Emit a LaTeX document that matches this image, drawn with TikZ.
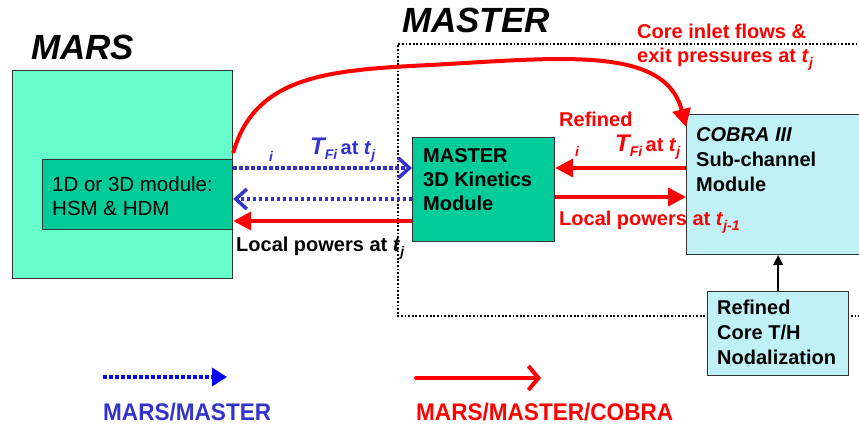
\documentclass[tikz,border=0pt]{standalone}
\usepackage{fontspec}
\setmainfont{Liberation Sans}
\usetikzlibrary{arrows.meta}
\definecolor{marsout}{RGB}{102,255,204}
\definecolor{modgreen}{RGB}{0,204,153}
\definecolor{cobrafill}{RGB}{192,241,247}
\definecolor{lblue}{RGB}{51,51,204}
\definecolor{pblue}{RGB}{0,0,255}
\definecolor{myred}{RGB}{255,0,0}
\newcommand\mysub[1]{\raisebox{-5pt}{\fontsize{14}{14}\selectfont\itshape #1}}
\newcommand\myTFi{{\fontsize{24}{24}\selectfont\itshape T}\mysub{Fi}\,at \textit{t}\mysub{j}}
\begin{document}
\begin{tikzpicture}[x=1pt,y=-1pt,
  box/.style={draw=black!80,line width=1.2pt,inner sep=0pt,anchor=north west},
  txt/.style={inner sep=0pt,anchor=base west,font=\fontsize{20}{24}\selectfont\bfseries},
  plain/.style={inner sep=0pt,anchor=base west,font=\fontsize{20.5}{24}\selectfont},
  title/.style={inner sep=0pt,anchor=base west,font=\fontsize{35}{35}\selectfont\bfseries\itshape},
  smalli/.style={inner sep=0pt,anchor=base west,font=\fontsize{14}{14}\selectfont\bfseries\itshape},
  legtxt/.style={inner sep=0pt,anchor=base west,font=\fontsize{24}{24}\selectfont\bfseries},
  frame/.style={line width=1.8pt,dash pattern=on 1.8pt off 1.8pt},
  bluearr/.style={lblue,line width=3.5pt,dash pattern=on 3.5pt off 2.5pt,
     -{Straight Barb[length=11pt,width=20pt,line width=3.5pt]}},
  redarr/.style={myred,line width=4pt,-{Triangle[length=18pt,width=18pt]}},
  blackarr/.style={black,line width=1.3pt,-{Triangle[length=10pt,width=10pt]}}
]
\useasboundingbox (0,0) rectangle (859,427);

% MASTER dotted frame
\draw[frame] (861,44) -- (398,44) -- (398,316) -- (861,316);

% boxes
\node[box,fill=marsout,minimum width=220pt,minimum height=208pt] (mars) at (12,70) {};
\node[box,fill=modgreen,minimum width=190pt,minimum height=70pt] (marsin) at (42,159) {};
\node[box,fill=modgreen,minimum width=142pt,minimum height=104pt] (master) at (412,137) {};
\node[box,fill=cobrafill,minimum width=180pt,minimum height=140pt] (cobra) at (686,114) {};
\node[box,fill=cobrafill,minimum width=141pt,minimum height=84pt] (refined) at (707,291) {};

% titles
\node[title] (tmars) at (31,60) {MARS};
\node[title] (tmaster) at (402,33) {MASTER};

% box texts
\node[plain] (mi1) at (52,192) {1D or 3D module:};
\node[plain] (mi2) at (52,216) {HSM \& HDM};
\node[txt] (ma1) at (423,163) {MASTER};
\node[txt] (ma2) at (423,187) {3D Kinetics};
\node[txt] (ma3) at (423,211) {Module};
\node[txt] (co1) at (696,142) {\itshape COBRA III};
\node[txt] (co2) at (696,167) {Sub-channel};
\node[txt] (co3) at (696,192) {Module};
\node[txt] (re1) at (717,315) {Refined};
\node[txt] (re2) at (717,340) {Core T/H};
\node[txt] (re3) at (717,364) {Nodalization};

% helper coordinates
\coordinate (h1) at (0,168);
\coordinate (h2) at (0,199);
\coordinate (h3) at (0,221);
\coordinate (h4) at (0,197);
\coordinate (hc) at (0,153);
\coordinate (he) at (0,127);

% connectors
\draw[bluearr] (marsin.east |- h1) -- (master.west |- h1);
\draw[bluearr] (master.west |- h2) -- (marsin.east |- h2);
\draw[redarr] (master.west |- h3) -- (marsin.east |- h3);
\draw[redarr] (cobra.west |- h1) -- (master.east |- h1);
\draw[redarr] (master.east |- h4) -- (cobra.west |- h4);
\draw[blackarr] (refined.north) -- (refined.north |- cobra.south);
\draw[redarr] (mars.east |- hc) .. controls (255,75) and (330,70) .. (430,65)
   .. controls (560,58) and (665,45) .. (cobra.west |- he);

% labels
\node[txt,myred] (cl1) at (637,39) {Core inlet flows \&};
\node[txt,myred] (cl2) at (637,63) {exit pressures at \textit{t}\mysub{j}};
\node[smalli,lblue] (bi) at (269,162) {i};
\node[txt,lblue] (btf) at (310,155) {\myTFi};
\node[txt,myred] (rref) at (559,127) {Refined};
\node[txt,myred] (rtf) at (615,152) {\myTFi};
\node[smalli,myred] (ri) at (575,157) {i};
\node[txt,myred] (rlp) at (559,226) {Local powers at \textit{t}\mysub{j-1}};
\node[txt] (blp) at (236,252) {Local powers at \textit{t}\mysub{j}};

% legend
\coordinate (lb1) at (103,377);
\coordinate (lb2) at (227,377);
\coordinate (lr1) at (416,378);
\coordinate (lr2) at (541,378);
\draw[pblue,line width=3.5pt,dash pattern=on 3.5pt off 2.5pt,-{Triangle[length=15pt,width=18pt]}] (lb1) -- (lb2);
\draw[myred,line width=4pt,line cap=round,-{Straight Barb[length=10pt,width=24pt,line width=4pt]}] (lr1) -- (lr2);
\node[legtxt,lblue] (leg1) at (103,420) {\scalebox{0.94}[1]{MARS/MASTER}};
\node[legtxt,myred] (leg2) at (416,420) {\scalebox{0.94}[1]{MARS/MASTER/COBRA}};
\end{tikzpicture}
\end{document}
